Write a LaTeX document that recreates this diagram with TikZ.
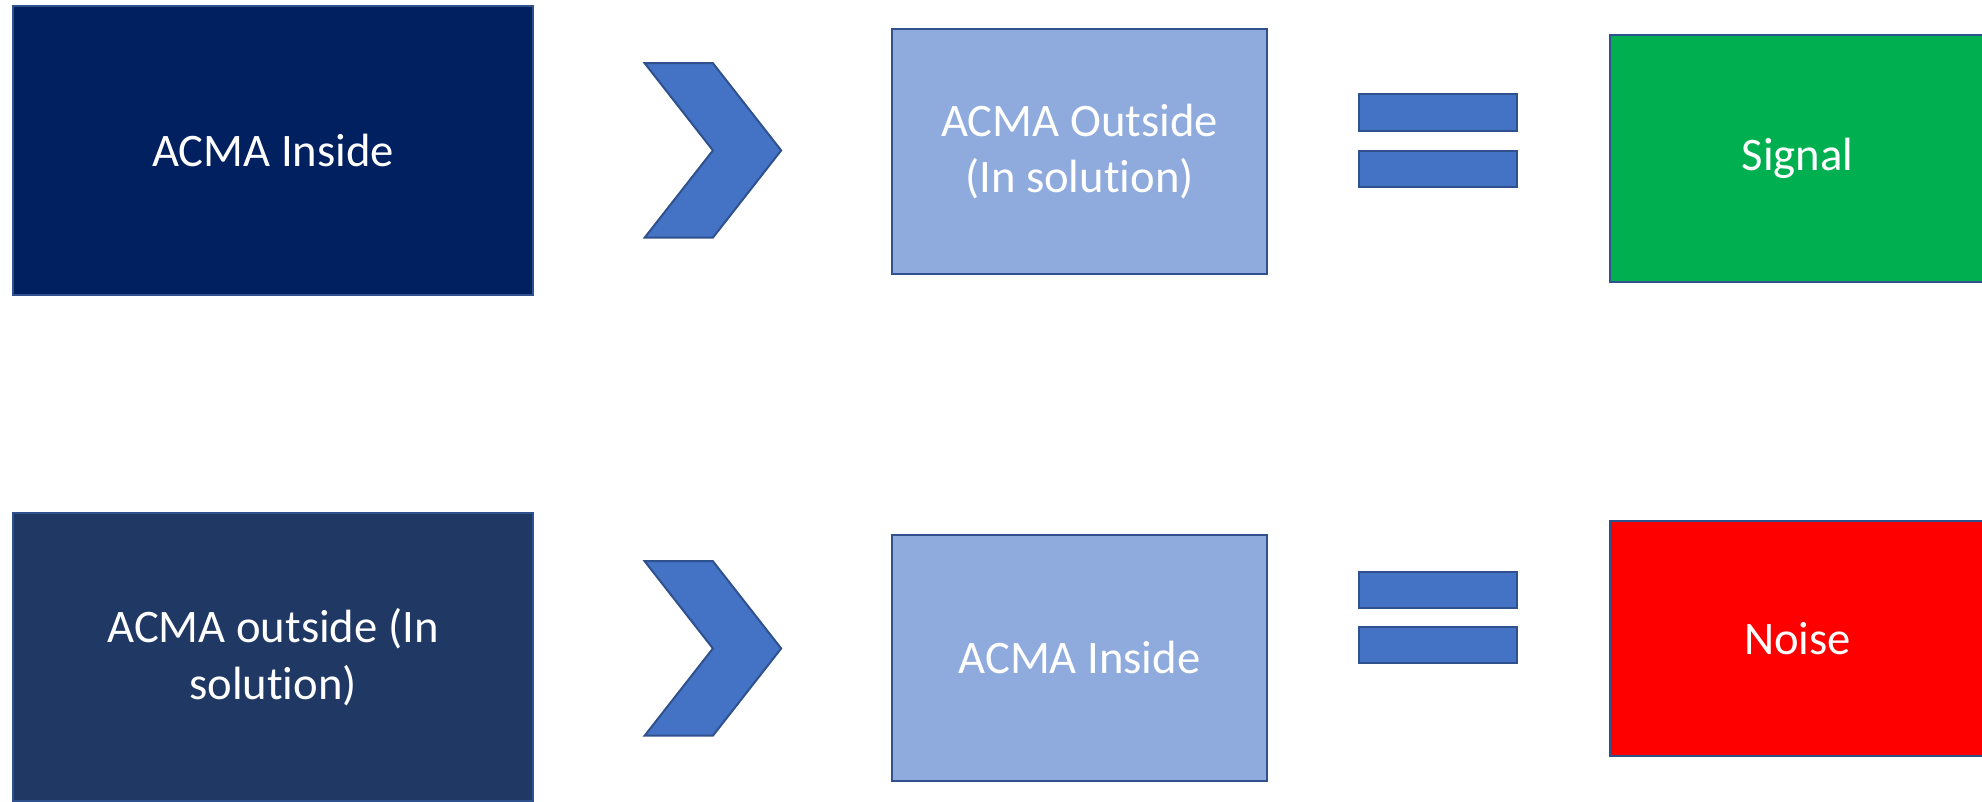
\documentclass[tikz,border=0pt]{standalone}
\usepackage{fontspec}
\setmainfont{Carlito}[Ligatures=NoCommon]
\usepackage{tikz}
\usetikzlibrary{positioning}

\definecolor{edge}{HTML}{2F528F}
\definecolor{accent}{HTML}{4472C4}
\definecolor{navy}{HTML}{002060}
\definecolor{darknavy}{HTML}{203864}
\definecolor{paleblue}{HTML}{8FAADC}
\definecolor{sigreen}{HTML}{00B050}
\definecolor{noisered}{HTML}{FF0000}

\begin{document}
\begin{tikzpicture}[
  box/.style={draw=edge, line width=0.9pt, minimum width=5.92cm, minimum height=3.9cm, align=center, text=white, font=\fontsize{21}{25.5}\selectfont},
  bigbox/.style={box, minimum width=8.24cm, minimum height=4.56cm},
  bar/.style={draw=edge, line width=0.9pt, fill=accent, minimum width=2.5cm, minimum height=0.57cm, inner sep=0pt},
  chev/.style={draw=edge, line width=0.9pt, fill=accent, line join=miter},
]

\useasboundingbox (0,0) rectangle (31.36,-12.68);
\clip (0,0) rectangle (31.36,-12.68);

% first row
\node[bigbox, fill=navy] (in1) at (4.32,-2.38) {ACMA Inside};
\coordinate (ch1) at (11.28,-2.38);
\draw[chev, shift={(ch1)}] (-1.08,1.38) -- (0,1.38) -- (1.08,0) -- (0,-1.38) -- (-1.08,-1.38) -- (0,0) -- cycle;
\node[box, fill=paleblue, minimum height=3.88cm] (out1) at (17.08,-2.40) {ACMA Outside\\(In solution)};
\node[bar] (eq1a) at (22.75,-1.78) {};
\node[bar, below=0.3cm of eq1a] (eq1b) {};
\node[box, fill=sigreen] (sig) at (28.44,-2.51) {Signal};

% second row
\node[bigbox, fill=darknavy] (out2) at (4.32,-10.40) {ACMA outside (In\\solution)};
\coordinate (ch2) at (11.28,-10.26);
\draw[chev, shift={(ch2)}] (-1.08,1.38) -- (0,1.38) -- (1.08,0) -- (0,-1.38) -- (-1.08,-1.38) -- (0,0) -- cycle;
\node[box, fill=paleblue] (in2) at (17.08,-10.41) {ACMA Inside};
\node[bar] (eq2a) at (22.75,-9.33) {};
\node[bar, below=0.27cm of eq2a] (eq2b) {};
\node[box, fill=noisered, minimum height=3.72cm] (noise) at (28.44,-10.10) {Noise};

\end{tikzpicture}
\end{document}
